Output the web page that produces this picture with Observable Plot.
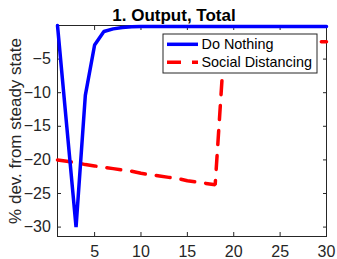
<!DOCTYPE html>
<html>
<head>
<meta charset="utf-8">
<script src="https://cdn.jsdelivr.net/npm/d3@7"></script>
<script src="https://cdn.jsdelivr.net/npm/@observablehq/plot@0.6"></script>
<style>
  html, body { margin: 0; padding: 0; background: #fff; }
  #chart { width: 337px; height: 259px; }
</style>
</head>
<body>
<div id="chart"></div>
<script>
const periods = [1,2,3,4,5,6,7,8,9,10,11,12,13,14,15,16,17,18,19,20,21,22,23,24,25,26,27,28,29,30];
const doNothing = [0, -15, -30, -10.4, -2.9, -0.9, -0.5, -0.3, -0.2, -0.15, -0.15, -0.15, -0.15, -0.15, -0.15, -0.15, -0.15, -0.15, -0.15, -0.15, -0.15, -0.15, -0.15, -0.15, -0.15, -0.15, -0.15, -0.15, -0.15, -0.15];
const socialDistancing = [-20.0, -20.2, -20.4, -20.7, -20.9, -21.1, -21.3, -21.5, -21.7, -22.0, -22.2, -22.4, -22.6, -22.8, -23.1, -23.3, -23.5, -23.7, -2.4, -2.4, -2.4, -2.4, -2.4, -2.4, -2.4, -2.4, -2.4, -2.4, -2.4, -2.4];
const seriesNames = ["Do Nothing", "Social Distancing"];
const xTicks = [5, 10, 15, 20, 25, 30];
const yTicks = [-30, -25, -20, -15, -10, -5];
const titleText = "1. Output, Total";
const yLabelText = "% dev. from steady state";

const dn = periods.map((p, i) => ({x: p, y: doNothing[i]}));
const sd = periods.map((p, i) => ({x: p, y: socialDistancing[i]}));

const axisColor = "#262626";
const font = "'Liberation Sans', Arial, Helvetica, sans-serif";

const plot = Plot.plot({
  width: 337,
  height: 259,
  marginLeft: 57,
  marginRight: 11,
  marginTop: 25,
  marginBottom: 23,
  style: {fontFamily: font, fontSize: "16px", color: axisColor, background: "white", overflow: "visible"},
  x: {domain: [1, 30]},
  y: {domain: [-31.4, 0]},
  marks: [
    Plot.frame({stroke: axisColor, strokeWidth: 1}),
    Plot.axisX(xTicks, {anchor: "bottom", tickSize: -4, tickPadding: 13.3, label: null, stroke: axisColor, fill: axisColor}),
    Plot.axisX(xTicks, {anchor: "top", tickSize: -4, label: null, stroke: axisColor, fill: "none"}),
    Plot.axisY(yTicks, {anchor: "left", tickSize: -4, tickPadding: 10.7, label: null, stroke: axisColor, fill: axisColor}),
    Plot.axisY(yTicks, {anchor: "right", tickSize: -4, label: null, stroke: axisColor, fill: "none"}),
    Plot.line(sd, {x: "x", y: "y", stroke: "#ff0000", strokeWidth: 3.5, strokeDasharray: "14,11", strokeLinejoin: "miter"}),
    Plot.line(dn, {x: "x", y: "y", stroke: "#0000ff", strokeWidth: 3.5, strokeLinejoin: "miter"})
  ]
});

document.getElementById("chart").appendChild(plot);

const svg = d3.select(plot);
// title
svg.append("text")
  .attr("x", 174).attr("y", 20.5)
  .attr("text-anchor", "middle")
  .style("font-family", font).style("font-size", "17px").style("font-weight", "bold")
  .attr("fill", "#000")
  .text(titleText);
// y label
svg.append("text")
  .attr("transform", "translate(20.5,131) rotate(-90)")
  .attr("text-anchor", "middle")
  .style("font-family", font).style("font-size", "17px")
  .attr("fill", axisColor)
  .text(yLabelText);
// legend
const lg = svg.append("g");
lg.append("rect").attr("x", 163).attr("y", 34).attr("width", 154).attr("height", 39)
  .attr("fill", "white").attr("stroke", axisColor).attr("stroke-width", 1);
const items = [
  {name: seriesNames[0], color: "#0000ff", dash: null, y: 44.3},
  {name: seriesNames[1], color: "#ff0000", dash: "14,11", y: 62.3}
];
items.forEach(it => {
  const l = lg.append("line").attr("x1", 167).attr("x2", 198).attr("y1", it.y).attr("y2", it.y)
    .attr("stroke", it.color).attr("stroke-width", 3.5);
  if (it.dash) l.attr("stroke-dasharray", it.dash);
  lg.append("text").attr("x", 201.5).attr("y", it.y).attr("dy", "0.36em")
    .attr("text-anchor", "start")
    .style("font-family", font).style("font-size", "14.4px").attr("fill", "#000")
    .text(it.name);
});
</script>
</body>
</html>
